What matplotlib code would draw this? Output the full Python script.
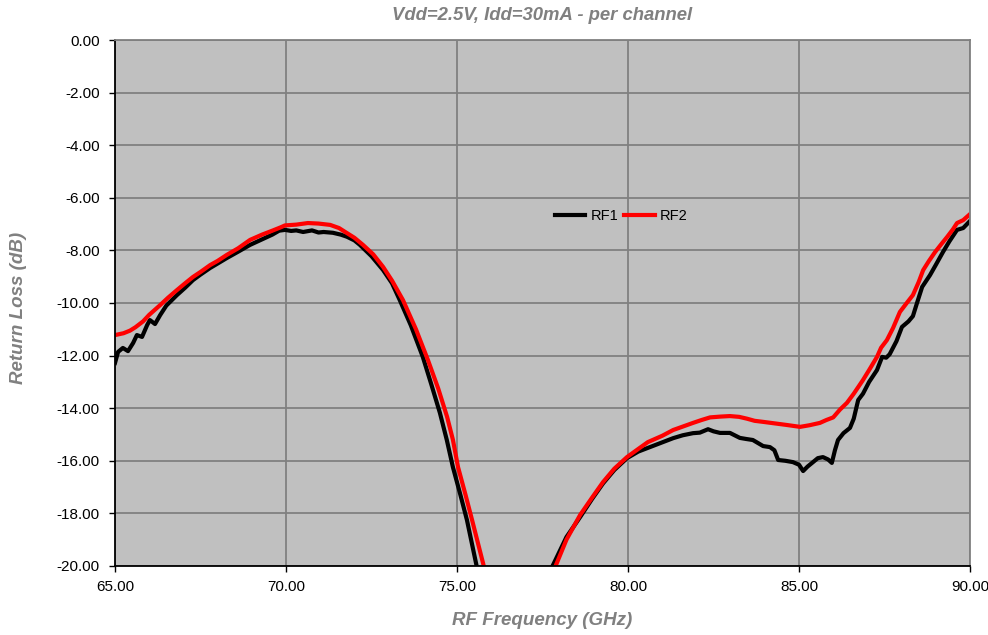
import matplotlib
matplotlib.use("Agg")
import matplotlib.pyplot as plt
from matplotlib.ticker import FormatStrFormatter

plt.rcParams['font.family'] = ['Liberation Sans', 'DejaVu Sans']

# RF1 return loss (black)
freq_rf1 = [65.00, 65.09, 65.23, 65.38, 65.53, 65.64, 65.79, 65.94, 66.02, 66.17,
            66.32, 66.50, 66.81, 67.05, 67.28, 67.50, 67.78, 68.00, 68.27, 68.60,
            68.95, 69.30, 69.60, 69.80, 69.97, 70.15, 70.30, 70.50, 70.76, 70.95,
            71.10, 71.37, 71.60, 71.78, 72.00, 72.16, 72.50, 72.84, 73.10, 73.33,
            73.65, 74.00, 74.25, 74.50, 74.70, 74.88, 75.10, 75.29, 75.58, 76.00,
            76.50, 77.00, 77.50, 77.78, 78.20, 78.60, 78.95, 79.27, 79.60, 79.97,
            80.30, 80.64, 81.00, 81.32, 81.60, 81.90, 82.10, 82.34, 82.50, 82.69,
            82.98, 83.27, 83.45, 83.65, 83.95, 84.15, 84.28, 84.39, 84.60, 84.82,
            85.00, 85.12, 85.25, 85.41, 85.55, 85.70, 85.85, 85.96, 86.05, 86.14,
            86.30, 86.49, 86.60, 86.73, 86.87, 87.05, 87.28, 87.43, 87.55, 87.65,
            87.85, 88.01, 88.20, 88.33, 88.45, 88.60, 88.83, 89.00, 89.21, 89.40,
            89.62, 89.80, 90.00]
rl_rf1 = [-12.28, -11.86, -11.71, -11.83, -11.52, -11.22, -11.29, -10.84, -10.65, -10.80,
          -10.46, -10.10, -9.70, -9.42, -9.13, -8.92, -8.67, -8.50, -8.29, -8.05,
          -7.79, -7.58, -7.40, -7.25, -7.22, -7.26, -7.24, -7.30, -7.24, -7.32,
          -7.30, -7.33, -7.40, -7.48, -7.62, -7.79, -8.22, -8.75, -9.25, -9.90,
          -10.85, -12.05, -13.10, -14.18, -15.20, -16.24, -17.30, -18.25, -20.04, -22.5,
          -26.0, -27.0, -23.0, -20.04, -18.90, -18.14, -17.45, -16.86, -16.35, -15.90,
          -15.65, -15.48, -15.30, -15.14, -15.03, -14.95, -14.93, -14.80, -14.88, -14.94,
          -14.94, -15.13, -15.17, -15.21, -15.44, -15.48, -15.60, -15.97, -16.00, -16.05,
          -16.15, -16.39, -16.22, -16.05, -15.90, -15.86, -15.95, -16.08, -15.60, -15.21,
          -14.95, -14.75, -14.40, -13.69, -13.45, -13.00, -12.55, -12.05, -12.08, -11.95,
          -11.45, -10.91, -10.70, -10.50, -10.00, -9.39, -8.94, -8.55, -8.06, -7.65,
          -7.22, -7.15, -6.88]

# RF2 return loss (red)
freq_rf2 = [65.00, 65.25, 65.44, 65.60, 65.82, 66.00, 66.32, 66.55, 66.81, 67.05,
            67.28, 67.50, 67.78, 68.00, 68.27, 68.60, 68.95, 69.30, 69.60, 69.85,
            69.97, 70.30, 70.64, 70.95, 71.29, 71.55, 71.78, 72.00, 72.25, 72.55,
            72.84, 73.10, 73.42, 73.80, 74.15, 74.45, 74.71, 74.88, 75.03, 75.25,
            75.44, 75.79, 76.20, 76.70, 77.20, 77.60, 77.87, 78.20, 78.60, 78.95,
            79.27, 79.60, 79.97, 80.30, 80.58, 81.00, 81.32, 81.60, 81.90, 82.15,
            82.40, 82.70, 82.98, 83.25, 83.48, 83.70, 83.95, 84.30, 84.65, 85.03,
            85.30, 85.61, 85.80, 86.00, 86.20, 86.40, 86.60, 86.87, 87.05, 87.28,
            87.40, 87.57, 87.75, 87.95, 88.15, 88.33, 88.50, 88.63, 88.80, 88.98,
            89.15, 89.33, 89.50, 89.62, 89.80, 90.00]
rl_rf2 = [-11.22, -11.15, -11.05, -10.92, -10.70, -10.45, -10.08, -9.80, -9.51, -9.25,
          -9.01, -8.82, -8.56, -8.40, -8.17, -7.92, -7.60, -7.40, -7.25, -7.12,
          -7.05, -7.02, -6.96, -6.98, -7.03, -7.15, -7.34, -7.52, -7.79, -8.15,
          -8.63, -9.15, -9.89, -11.00, -12.17, -13.25, -14.33, -15.20, -16.24, -17.30,
          -18.25, -20.04, -22.5, -26.0, -26.0, -22.5, -20.04, -19.00, -18.06, -17.40,
          -16.81, -16.30, -15.86, -15.55, -15.29, -15.05, -14.83, -14.70, -14.56, -14.45,
          -14.35, -14.32, -14.30, -14.33, -14.40, -14.48, -14.52, -14.58, -14.64, -14.71,
          -14.65, -14.56, -14.45, -14.35, -14.05, -13.80, -13.45, -12.93, -12.55, -12.05,
          -11.70, -11.41, -10.95, -10.34, -10.00, -9.70, -9.20, -8.75, -8.40, -8.06,
          -7.78, -7.49, -7.20, -6.96, -6.85, -6.62]

x_ticks = [65, 70, 75, 80, 85, 90]
y_ticks = [0, -2, -4, -6, -8, -10, -12, -14, -16, -18, -20]

fig = plt.figure(figsize=(9.88, 6.35), dpi=100)
ax = fig.add_axes([0.1164, 0.1087, 0.8654, 0.8283])
ax.set_facecolor('#C0C0C0')

ax.plot(freq_rf1, rl_rf1, color='black', lw=3.0, label='RF1', solid_joinstyle='round')
ax.plot(freq_rf2, rl_rf2, color='#FF0000', lw=3.0, label='RF2', solid_joinstyle='round')

ax.set_xlim(65, 90)
ax.set_ylim(-20, 0)
ax.set_xticks(x_ticks)
ax.set_yticks(y_ticks)
ax.xaxis.set_major_formatter(FormatStrFormatter('%.2f'))
ax.yaxis.set_major_formatter(FormatStrFormatter('%.2f'))
ax.grid(True, color='#808080', lw=1.3)
ax.set_axisbelow(True)
ax.tick_params(labelsize=11, direction='out', length=4, width=1, color='black')
ax.tick_params(axis='x', pad=6)
ax.tick_params(axis='y', pad=7)

for s in ['top', 'right']:
    ax.spines[s].set_color('#808080')
    ax.spines[s].set_linewidth(1.3)
for s in ['left', 'bottom']:
    ax.spines[s].set_color('black')
    ax.spines[s].set_linewidth(1.3)

fig.text(0.5486, 1 - 15 / 635, 'Vdd=2.5V, Idd=30mA - per channel', fontsize=13.3,
         fontweight='bold', fontstyle='italic', color='#808080', ha='center', va='center')
ax.set_xlabel('RF Frequency (GHz)', fontsize=13.5, fontweight='bold', fontstyle='italic',
              color='#808080')
ax.set_ylabel('Return Loss (dB)', fontsize=13.5, fontweight='bold', fontstyle='italic',
              color='#808080')
ax.xaxis.set_label_coords(0.5, -0.088)
ax.yaxis.set_label_coords(-0.103, 0.49)

ax.legend(loc='center', bbox_to_anchor=(0.592, 0.665), ncol=2, frameon=False,
          fontsize=10.5, handlelength=2.1, columnspacing=0.4, handletextpad=0.35)

fig.savefig('out.png', dpi=100)
